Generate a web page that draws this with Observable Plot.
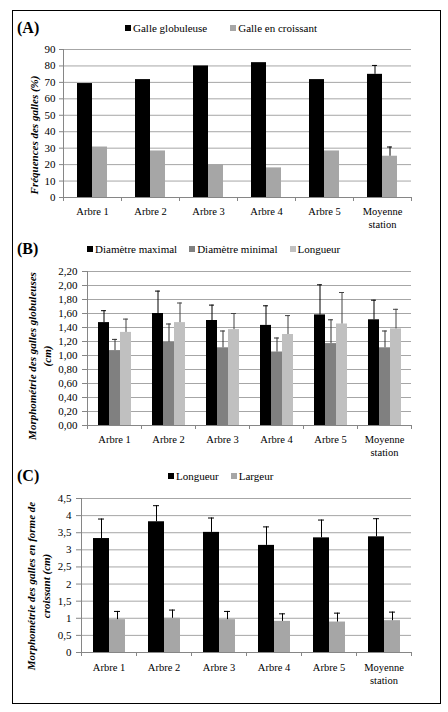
<!DOCTYPE html>
<html><head><meta charset="utf-8">
<script src="https://cdn.jsdelivr.net/npm/d3@7"></script>
<script src="https://cdn.jsdelivr.net/npm/@observablehq/plot@0.6"></script>
<style>
html,body{margin:0;padding:0;background:#fff;}
#root{position:relative;width:448px;height:712px;overflow:hidden;font-family:"Liberation Serif",Tinos,"Times New Roman",Times,"DejaVu Serif",serif;color:#000;}
#root svg, #root svg text{font-family:"Liberation Serif",Tinos,"Times New Roman",Times,"DejaVu Serif",serif;}
.frame{position:absolute;left:12px;top:10px;width:429px;height:694px;border:1px solid #000;box-sizing:border-box;}
.letter{position:absolute;left:17px;font-weight:bold;font-size:16px;line-height:16px;}
.legend{position:absolute;display:flex;align-items:center;font-size:11px;line-height:12px;white-space:nowrap;transform:translateY(-50%);}
.legend .item{display:flex;align-items:center;}
.legend .sw{width:6px;height:6px;margin-right:2px;}
.ytitle{position:absolute;transform:translate(-50%,-50%) rotate(-90deg);font-weight:bold;font-style:italic;font-size:11px;line-height:15px;text-align:center;white-space:pre;}
.chart{position:absolute;left:0;}
</style></head>
<body><div id="root"><div class="frame"></div></div>
<script>
// ---------- data ----------
const categories = ["Arbre 1", "Arbre 2", "Arbre 3", "Arbre 4", "Arbre 5", "Moyenne station"];

// (A) Fréquences des galles (%)
const seriesA = ["Galle globuleuse", "Galle en croissant"];
const globuleuse = [69.3, 71.7, 80.0, 82.0, 71.7, 74.9];
const croissant = [30.7, 28.3, 20.0, 18.0, 28.3, 25.1];
const errGlobuleuse = [null, null, null, null, null, 5.4];
const errCroissant = [null, null, null, null, null, 5.6];
const ticksA = [0, 10, 20, 30, 40, 50, 60, 70, 80, 90];

// (B) Morphométrie des galles globuleuses (cm)
const seriesB = ["Diamètre maximal", "Diamètre minimal", "Longueur"];
const diamMax = [1.47, 1.60, 1.50, 1.43, 1.58, 1.51];
const diamMin = [1.07, 1.19, 1.11, 1.05, 1.17, 1.11];
const longueurB = [1.33, 1.47, 1.37, 1.30, 1.45, 1.38];
const errDiamMax = [0.17, 0.32, 0.22, 0.28, 0.43, 0.28];
const errDiamMin = [0.16, 0.26, 0.24, 0.20, 0.34, 0.24];
const errLongueurB = [0.19, 0.28, 0.23, 0.27, 0.45, 0.28];
const ticksB = [0, 0.2, 0.4, 0.6, 0.8, 1.0, 1.2, 1.4, 1.6, 1.8, 2.0, 2.2];

// (C) Morphométrie des galles en forme de croissant (cm)
const seriesC = ["Longueur", "Largeur"];
const longueurC = [3.33, 3.82, 3.51, 3.13, 3.35, 3.38];
const largeurC = [0.96, 1.00, 0.96, 0.91, 0.89, 0.93];
const errLongueurC = [0.57, 0.47, 0.42, 0.54, 0.52, 0.53];
const errLargeurC = [0.24, 0.24, 0.24, 0.22, 0.26, 0.25];
const ticksC = [0, 0.5, 1, 1.5, 2, 2.5, 3, 3.5, 4, 4.5];

// ---------- helpers ----------
const FONT = "'Liberation Serif', Tinos, 'Times New Roman', Times, 'DejaVu Serif', serif";
const root = document.getElementById("root");
const comma = f => v => f(v).replace(".", ",");

function addDiv(cls, text, css) {
  const d = document.createElement("div");
  d.className = cls;
  if (text != null) d.textContent = text;
  Object.assign(d.style, css);
  root.appendChild(d);
  return d;
}

function legend(series, colors, left, top, gap) {
  const lg = addDiv("legend", null, {left: left + "px", top: top + "px", gap: gap + "px"});
  series.forEach((s, i) => {
    const it = document.createElement("div"); it.className = "item";
    const sw = document.createElement("span"); sw.className = "sw"; sw.style.background = colors[i];
    const tx = document.createElement("span"); tx.textContent = s;
    it.appendChild(sw); it.appendChild(tx); lg.appendChild(it);
  });
}

function panel(cfg) {
  const data = [];
  cfg.series.forEach((s, si) => categories.forEach((c, ci) =>
    data.push({cat: c, series: s, value: cfg.values[si][ci], err: cfg.errors[si][ci]})));
  const ymax = cfg.ticks[cfg.ticks.length - 1];
  const errMarks = [];
  cfg.series.forEach((s, si) => {
    const ed = data.filter(d => d.series === s && d.err != null);
    errMarks.push(Plot.ruleX(ed, {fx: "cat", x: "series", y1: "value", y2: d => d.value + d.err, stroke: cfg.errColors[si], strokeWidth: 1}));
    errMarks.push(Plot.tickY(ed, {fx: "cat", x: "series", y: d => d.value + d.err, stroke: cfg.errColors[si], strokeWidth: 1, insetLeft: cfg.capInset, insetRight: cfg.capInset}));
  });
  const svg = Plot.plot({
    width: 448, height: cfg.height,
    marginTop: cfg.mt, marginBottom: cfg.mb, marginLeft: cfg.ml, marginRight: cfg.mr,
    style: {fontFamily: FONT, fontSize: "11px", background: "transparent", overflow: "visible", color: "#000"},
    fx: {domain: categories, padding: 0, label: null},
    x: {domain: cfg.series, paddingInner: 0, paddingOuter: cfg.xpad, axis: null},
    y: {domain: [0, ymax], label: null},
    color: {domain: cfg.series, range: cfg.colors},
    marks: [
      Plot.gridY(cfg.ticks, {stroke: "#a6a6a6", strokeOpacity: 1}),
      Plot.axisY(cfg.ticks, {tickSize: cfg.tickSize, tickPadding: cfg.tickPadding, tickFormat: cfg.fmt, stroke: "#868686", fill: "#000", fontSize: 11, label: null}),
      Plot.ruleY([0], {stroke: "#868686"}),
      Plot.barY(data, {fx: "cat", x: "series", y: "value", fill: "series"}),
      ...errMarks,
      Plot.axisFx({anchor: "bottom", tickSize: 0, tickPadding: cfg.xLabelPad, fontSize: 10.5, lineHeight: 1.25, label: null,
                   tickFormat: d => d.replace(" station", "\nstation")})
    ]
  });
  // axis line and category boundary ticks drawn from the plot's own scales
  const fx = svg.scale("fx"), y = svg.scale("y");
  const bounds = categories.map(c => fx.apply(c));
  bounds.push(fx.apply(categories[categories.length - 1]) + fx.bandwidth);
  const y0 = y.apply(0), y1 = y.apply(ymax);
  const g = d3.select(svg).append("g").attr("stroke", "#868686").attr("stroke-width", 1);
  g.append("line").attr("x1", bounds[0] + 0.5).attr("x2", bounds[0] + 0.5).attr("y1", y1).attr("y2", y0);
  bounds.forEach(b => g.append("line").attr("x1", b + 0.5).attr("x2", b + 0.5).attr("y1", y0).attr("y2", y0 + 4));
  svg.classList.add("chart");
  svg.style.top = cfg.top + "px";
  svg.style.fontFamily = FONT;
  root.appendChild(svg);
}

// ---------- panel A ----------
addDiv("letter", "(A)", {top: "20px"});
legend(seriesA, ["#000000", "#a6a6a6"], 125, 28, 23);
addDiv("ytitle", "Fréquences des galles (%)", {left: "34px", top: "135px"});
panel({series: seriesA, values: [globuleuse, croissant], errors: [errGlobuleuse, errCroissant],
  colors: ["#000000", "#a6a6a6"], errColors: ["#000000", "#000000"],
  ticks: ticksA, fmt: d3.format("d"),
  top: 40, height: 189, mt: 9, mb: 32, ml: 62, mr: 37, xpad: 0.82, capInset: 5,
  tickSize: 4, tickPadding: 4, xLabelPad: 8});

// ---------- panel B ----------
addDiv("letter", "(B)", {top: "241px"});
legend(seriesB, ["#000000", "#808080", "#c0c0c0"], 87, 249, 12);
addDiv("ytitle", "Morphométrie des galles globuleuses\n(cm)", {left: "40px", top: "356px"});
panel({series: seriesB, values: [diamMax, diamMin, longueurB], errors: [errDiamMax, errDiamMin, errLongueurB],
  colors: ["#000000", "#808080", "#c0c0c0"], errColors: ["#000000", "#333333", "#444444"],
  ticks: ticksB, fmt: comma(d3.format(".2f")),
  top: 261, height: 198, mt: 10, mb: 34, ml: 85, mr: 36, xpad: 0.77, capInset: 3,
  tickSize: 5, tickPadding: 5, xLabelPad: 8});

// ---------- panel C ----------
addDiv("letter", "(C)", {top: "468px"});
legend(seriesC, ["#000000", "#a6a6a6"], 168, 476, 12);
addDiv("ytitle", "Morphométrie des galles en forme de\ncroissant (cm)", {left: "39px", top: "586px"});
panel({series: seriesC, values: [longueurC, largeurC], errors: [errLongueurC, errLargeurC],
  colors: ["#000000", "#a6a6a6"], errColors: ["#000000", "#000000"],
  ticks: ticksC, fmt: comma(d3.format("~g")),
  top: 488, height: 200, mt: 10, mb: 36, ml: 79, mr: 35, xpad: 0.68, capInset: 5,
  tickSize: 5, tickPadding: 5, xLabelPad: 9});
</script>
</body></html>
